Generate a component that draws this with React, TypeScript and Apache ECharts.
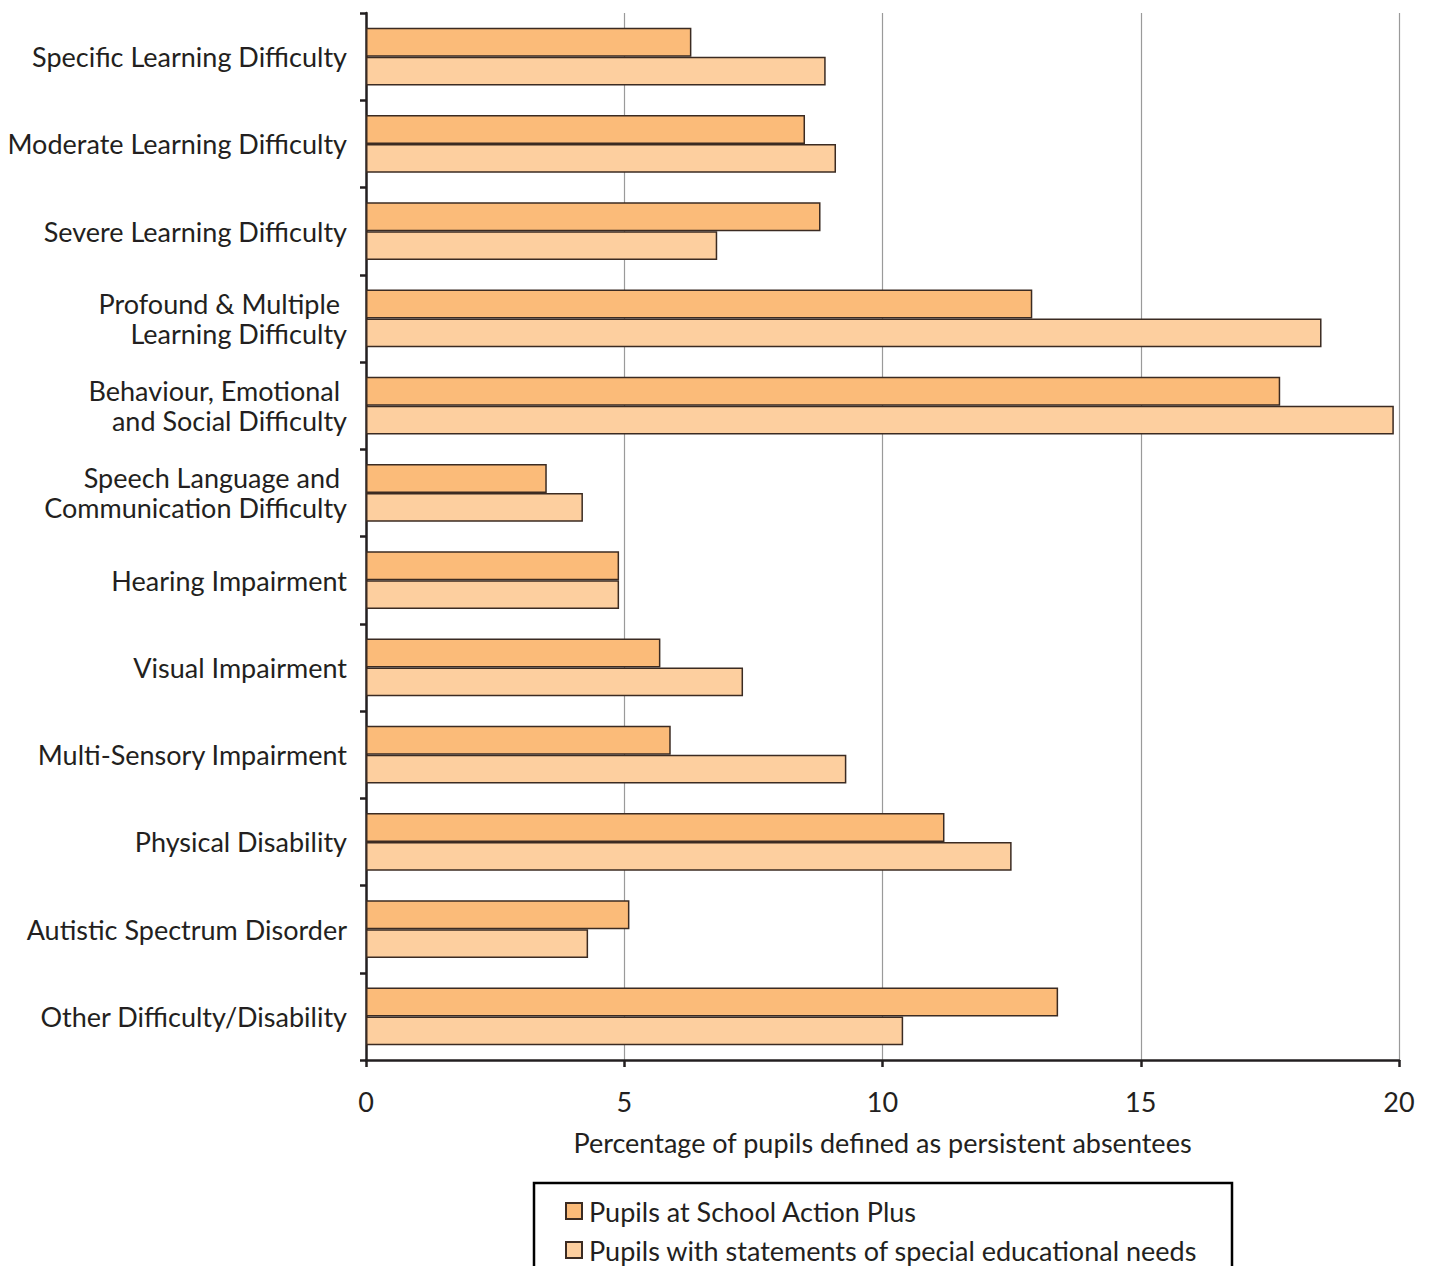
import React, { useEffect, useRef } from "react";
import * as echarts from "echarts";

const categories = [
  "Specific Learning Difficulty",
  "Moderate Learning Difficulty",
  "Severe Learning Difficulty",
  "Profound & Multiple \nLearning Difficulty",
  "Behaviour, Emotional \nand Social Difficulty",
  "Speech Language and \nCommunication Difficulty",
  "Hearing Impairment",
  "Visual Impairment",
  "Multi-Sensory Impairment",
  "Physical Disability",
  "Autistic Spectrum Disorder",
  "Other Difficulty/Disability",
];

const schoolActionPlus = [6.3, 8.5, 8.8, 12.9, 17.7, 3.5, 4.9, 5.7, 5.9, 11.2, 5.1, 13.4];
const statements = [8.9, 9.1, 6.8, 18.5, 19.9, 4.2, 4.9, 7.3, 9.3, 12.5, 4.3, 10.4];

const xTicks = [0, 5, 10, 15, 20];
const seriesNames = [
  "Pupils at School Action Plus",
  "Pupils with statements of special educational needs",
];

const FONT = "Lato, 'Open Sans', sans-serif";
const TEXT = "#231f20";

export default function App() {
  const ref = useRef<HTMLDivElement>(null);
  useEffect(() => {
    if (!ref.current) return;
    const chart = echarts.init(ref.current, null, { renderer: "svg" });
    chart.setOption({
      animation: false,
      textStyle: { fontFamily: FONT, color: TEXT },
      grid: { left: 366, right: 31, top: 13, bottom: 214, containLabel: false },
      xAxis: {
        type: "value",
        min: xTicks[0],
        max: xTicks[xTicks.length - 1],
        interval: 5,
        name: "Percentage of pupils defined as persistent absentees",
        nameLocation: "middle",
        nameGap: 69,
        nameTextStyle: { fontSize: 27, color: TEXT, fontFamily: FONT },
        axisLine: { show: true, lineStyle: { color: "#231f20", width: 2.5 } },
        axisTick: { show: true, length: 7, lineStyle: { color: "#231f20", width: 2.5 } },
        axisLabel: { fontSize: 27, color: TEXT, margin: 28, fontFamily: FONT },
        splitLine: { show: true, lineStyle: { color: "#9a9a9a", width: 1.2 } },
      },
      yAxis: {
        type: "category",
        data: categories,
        inverse: true,
        axisLine: { show: true, lineStyle: { color: "#231f20", width: 2.5 } },
        axisTick: { show: true, length: 6, lineStyle: { color: "#231f20", width: 2.5 } },
        axisLabel: {
          fontSize: 27,
          color: TEXT,
          margin: 19,
          lineHeight: 30,
          align: "right",
          fontFamily: FONT,
          padding: [0, 0, 12, 0],
        },
      },
      legend: {
        orient: "vertical",
        left: 565,
        top: 1197,
        padding: 0,
        icon: "rect",
        itemWidth: 16,
        itemHeight: 16,
        itemGap: 11,
        selectedMode: false,
        textStyle: { fontSize: 27, color: TEXT, lineHeight: 28, fontFamily: FONT, padding: [0, 0, 0, 2] },
        data: seriesNames,
      },
      graphic: [
        {
          type: "rect",
          shape: { x: 534, y: 1183, width: 698, height: 120 },
          style: { fill: "none", stroke: "#000", lineWidth: 2.5 },
          silent: true,
        },
      ],
      series: [
        {
          name: seriesNames[0],
          type: "bar",
          data: schoolActionPlus,
          barWidth: "33%",
          barGap: "0%",
          itemStyle: { color: "#fbbb79", borderColor: "#3b2b22", borderWidth: 1.5 },
        },
        {
          name: seriesNames[1],
          type: "bar",
          data: statements,
          barWidth: "33%",
          barGap: "0%",
          itemStyle: { color: "#fdcf9f", borderColor: "#3b2b22", borderWidth: 1.5 },
        },
      ],
    });
    return () => chart.dispose();
  }, []);
  return <div ref={ref} style={{ width: 1430, height: 1274, margin: -8 }} />;
}
